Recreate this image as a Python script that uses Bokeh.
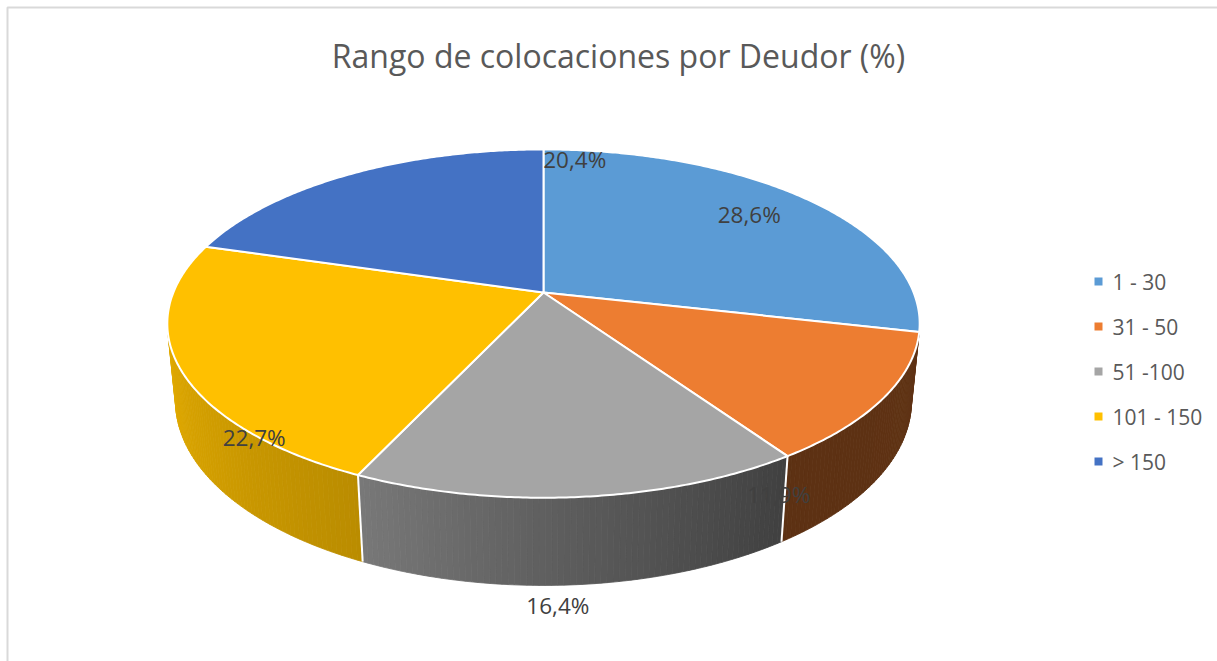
import numpy as np
from bokeh.plotting import figure
from bokeh.embed import file_html
from bokeh.resources import INLINE
from bokeh.core.properties import value

# ---------------- data ----------------
title_text = "Rango de colocaciones por Deudor (%)"
categories = ["1 - 30", "31 - 50", "51 -100", "101 - 150", "> 150"]
shares = [28.6, 11.9, 16.4, 22.7, 20.4]
share_labels = ["28,6%", "11,9%", "16,4%", "22,7%", "20,4%"]
colors = ["#5b9bd5", "#ed7d31", "#a5a5a5", "#ffc000", "#4472c4"]

# ---------------- style / geometry ----------------
# label anchors: angle clockwise from 12 o'clock (deg) and radius relative to pie radius
label_angle = [50.1, 152.0, 178.8, 222.3, 6.1]
label_radius = [0.79, 1.116, 1.394, 1.007, 0.925]

W, HPX = 1217, 661
CX, CY = 543, 292
FOCAL = 1847.0
DIST = 4.99
ELEV = np.radians(27.1)
THICK = 0.238
SE, CE = np.sin(ELEV), np.cos(ELEV)

# wall shading (brightness factor vs angle clockwise from top)
shade_phi = [103, 146, 177, 205, 235, 257]
shade_b = [0.40, 0.39, 0.56, 0.73, 0.82, 0.88]


def project(X, Y, Z):
    X = np.asarray(X, float)
    Y = np.asarray(Y, float)
    Z = np.asarray(Z, float) * np.ones_like(X)
    zc = CE * Y - SE * Z + DIST
    return CX + FOCAL * X / zc, CY - FOCAL * (SE * Y + CE * Z) / zc


def rim(phi_deg, r=1.0, z=0.0):
    t = np.radians(90 - np.asarray(phi_deg, float))
    return project(r * np.cos(t), r * np.sin(t), z * np.ones_like(t))


def shade(hexcol, b):
    h = hexcol.lstrip("#")
    rgb = [int(h[i:i + 2], 16) for i in (0, 2, 4)]
    return "#%02x%02x%02x" % tuple(max(0, min(255, int(round(c * b)))) for c in rgb)


p = figure(width=W, height=HPX, x_range=(0, W), y_range=(HPX, 0),
           toolbar_location=None, output_backend="svg", min_border=0)
p.axis.visible = False
p.grid.visible = False
p.outline_line_color = None
p.background_fill_color = "white"
p.border_fill_color = "white"

# outer chart frame
p.line([7, 7, W + 20], [HPX + 20, 7, 7], line_color="#d9d9d9", line_width=2)

cum = np.concatenate([[0], np.cumsum(shares)])
bounds = cum / cum[-1] * 360.0

phi_lo = 90 + np.degrees(np.arcsin(1 / (DIST * CE)))
phi_hi = 270 - np.degrees(np.arcsin(1 / (DIST * CE)))

# side walls
for i, col in enumerate(colors):
    lo, hi = max(bounds[i], phi_lo), min(bounds[i + 1], phi_hi)
    if lo >= hi:
        continue
    n = max(2, int((hi - lo) / 0.8))
    ph = np.linspace(lo, hi, n + 1)
    tx, ty = rim(ph, 1.0, 0.0)
    bx, by = rim(ph, 1.0, -THICK)
    xs, ys, cs = [], [], []
    for k in range(n):
        xs.append([tx[k], tx[k + 1], bx[k + 1], bx[k]])
        ys.append([ty[k], ty[k + 1], by[k + 1], by[k]])
        b = np.interp(0.5 * (ph[k] + ph[k + 1]), shade_phi, shade_b)
        cs.append(shade(col, b))
    p.patches(xs=xs, ys=ys, fill_color=cs, line_color=cs, line_width=0.8)

# wall separators
for b_ in bounds[1:-1]:
    if phi_lo < b_ < phi_hi:
        tx, ty = rim([b_], 1.0, 0.0)
        bx, by = rim([b_], 1.0, -THICK)
        p.line([tx[0], bx[0]], [ty[0], by[0]], line_color="white", line_width=2)

# top surface slices
for i, col in enumerate(colors):
    ph = np.linspace(bounds[i], bounds[i + 1], max(3, int(bounds[i + 1] - bounds[i]) * 2))
    ax, ay = rim(ph, 1.0, 0.0)
    p.patch(np.concatenate([[CX], ax]), np.concatenate([[CY], ay]),
            fill_color=col, line_color="white", line_width=2, line_join="round")

# data labels
lx, ly = [], []
for a, r in zip(label_angle, label_radius):
    x_, y_ = rim([a], r, 0.0)
    lx.append(x_[0])
    ly.append(y_[0])
p.text(x=lx, y=ly, text=share_labels, text_align="center", text_baseline="middle",
       text_font=value("Open Sans"), text_font_size="22.5px", text_color="#404040")

# title
p.text(x=[618], y=[55], text=[title_text], text_align="center", text_baseline="middle",
       text_font=value("Open Sans"), text_font_size="32px", text_color="#595959")

# legend
leg_x, leg_top, leg_pitch = 1098, 281, 45.0
leg_y = [leg_top + i * leg_pitch for i in range(len(categories))]
p.scatter(x=[leg_x] * len(categories), y=leg_y, marker="square", size=8,
          fill_color=colors, line_color=None)
p.text(x=[leg_x + 14] * len(categories), y=leg_y, text=categories, text_align="left",
       text_baseline="middle", text_font=value("Open Sans"), text_font_size="21px",
       text_color="#595959")

open("out.html", "w").write(file_html(p, INLINE))
